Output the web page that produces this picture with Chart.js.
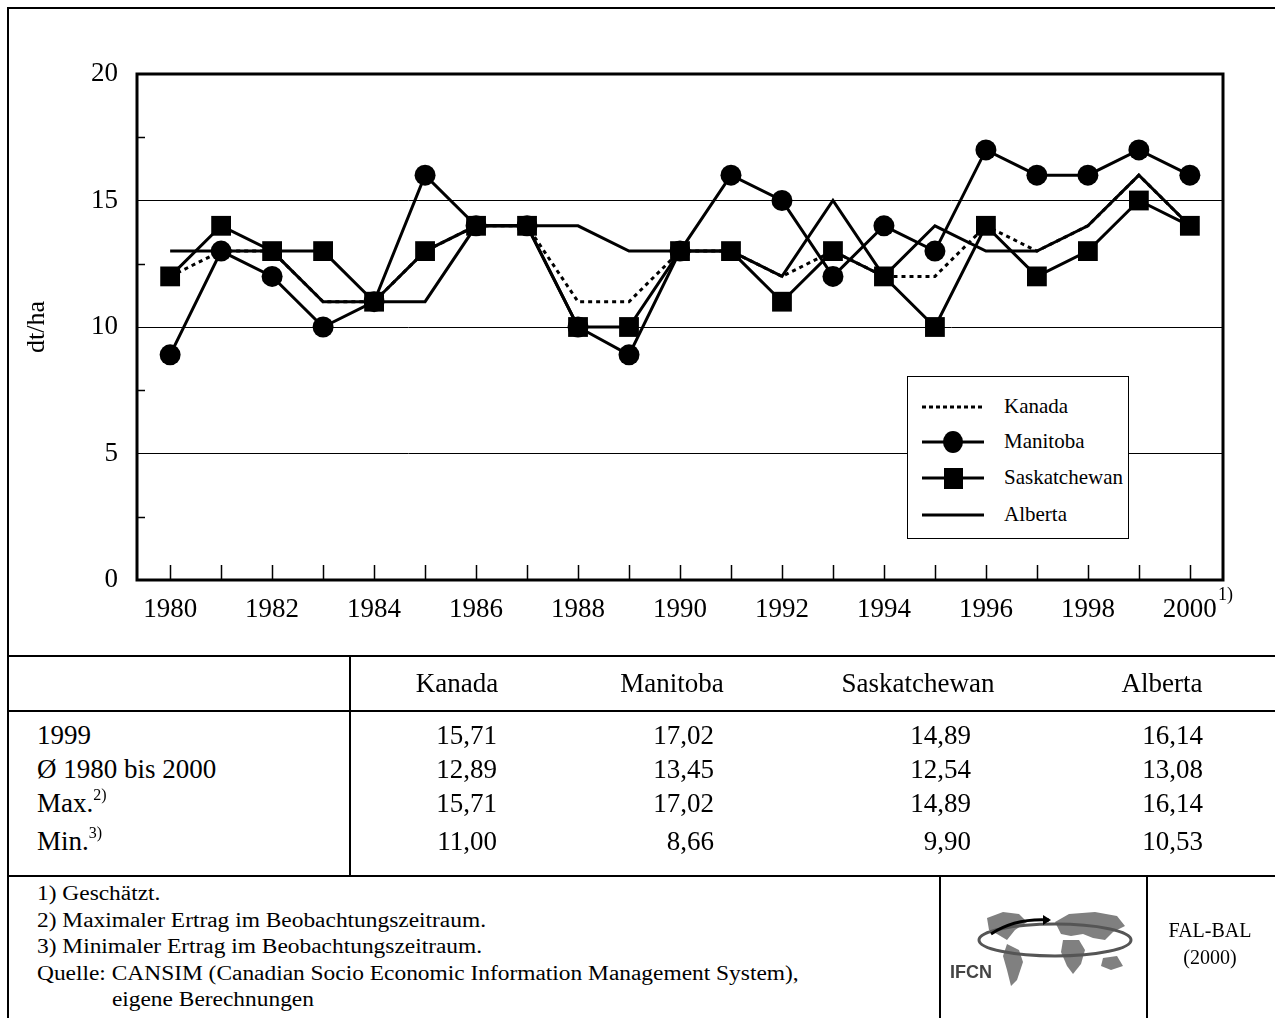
<!DOCTYPE html>
<html>
<head>
<meta charset="utf-8">
<script src="https://cdn.jsdelivr.net/npm/chart.js@4/dist/chart.umd.min.js"></script>
<style>
  body { margin: 0; background: #fff; font-family: "Liberation Serif", "Times New Roman", serif; color: #000; }
  #page { position: relative; width: 1275px; height: 1018px; overflow: hidden; }
  #chartWrap { position: absolute; left: 0; top: 0; width: 1275px; height: 656px; }
  .hl { position: absolute; height: 0; border-top: 2px solid #000; }
  .vl { position: absolute; width: 0; border-left: 2px solid #000; }
  .txt { position: absolute; white-space: nowrap; }
  .num { position: absolute; white-space: nowrap; text-align: right; }
  #legend { position: absolute; left: 907px; top: 376px; width: 220px; height: 161px; border: 1px solid #000; background: #fff; }
  #legend .row { position: absolute; left: 14px; height: 30px; }
  #legend svg { position: absolute; left: 0; top: 0; }
  #legend span { position: absolute; left: 82px; top: 2px; font-size: 21px; }
  #notes div { white-space: nowrap; }
</style>
</head>
<body>
<div id="page">
  <div id="chartWrap"><canvas id="yieldChart"></canvas></div>

  <div id="legend">
    <div class="row" style="top:15px"><svg width="70" height="30"><line x1="0" y1="15" x2="62" y2="15" stroke="#000" stroke-width="3" stroke-dasharray="4,3"/></svg><span>Kanada</span></div>
    <div class="row" style="top:50px"><svg width="70" height="30"><line x1="0" y1="15" x2="62" y2="15" stroke="#000" stroke-width="3"/><ellipse cx="31" cy="15" rx="10" ry="11" fill="#000"/></svg><span>Manitoba</span></div>
    <div class="row" style="top:86px"><svg width="70" height="30"><line x1="0" y1="15" x2="62" y2="15" stroke="#000" stroke-width="3"/><rect x="22" y="5" width="19" height="21" fill="#000"/></svg><span>Saskatchewan</span></div>
    <div class="row" style="top:123px"><svg width="70" height="30"><line x1="0" y1="15" x2="62" y2="15" stroke="#000" stroke-width="3"/></svg><span>Alberta</span></div>
  </div>

  <div class="txt" style="left:1218px; top:584px; font-size:18px;">1)</div>

  <!-- frame -->
  <div class="hl" style="left:8px; top:7px; width:1267px;"></div>
  <div class="vl" style="left:7px; top:7px; height:1011px;"></div>
  <div class="hl" style="left:8px; top:655px; width:1267px;"></div>
  <div class="hl" style="left:8px; top:710px; width:1267px;"></div>
  <div class="hl" style="left:8px; top:875px; width:1267px;"></div>
  <div class="vl" style="left:349px; top:656px; height:220px;"></div>
  <div class="vl" style="left:939px; top:876px; height:142px;"></div>
  <div class="vl" style="left:1146px; top:876px; height:142px;"></div>

  <div id="table"></div>

  <div id="notes" style="position:absolute; left:37px; top:880px; font-size:20px; line-height:26.5px; transform:scaleX(1.17); transform-origin:0 0;">
    <div>1) Geschätzt.</div>
    <div>2) Maximaler Ertrag im Beobachtungszeitraum.</div>
    <div>3) Minimaler Ertrag im Beobachtungszeitraum.</div>
    <div>Quelle: CANSIM (Canadian Socio Economic Information Management System),</div>
    <div style="padding-left:64px">eigene Berechnungen</div>
  </div>

  <svg style="position:absolute; left:945px; top:900px;" width="195" height="100">
    <g fill="#808080">
      <path d="M42 18 L58 12 L74 14 L82 22 L70 30 L62 40 L52 34 L44 30 Z"/>
      <path d="M62 44 L74 50 L78 62 L72 80 L66 86 L62 70 L58 56 Z"/>
      <path d="M110 22 L124 14 L150 12 L172 16 L180 26 L168 32 L160 40 L148 38 L138 34 L126 36 L116 34 Z"/>
      <path d="M118 40 L134 40 L140 50 L136 64 L128 74 L122 66 L116 52 Z"/>
      <path d="M158 58 L172 56 L178 66 L166 70 L156 66 Z"/>
    </g>
    <ellipse cx="110" cy="40" rx="76" ry="16" fill="none" stroke="#555" stroke-width="3"/>
    <path d="M46 34 Q70 18 104 20" fill="none" stroke="#000" stroke-width="3"/>
    <path d="M98 15 L106 20 L98 25 Z" fill="#000"/>
    <text x="5" y="78" font-family="Liberation Sans, Arial, sans-serif" font-weight="bold" font-size="18" fill="#444">IFCN</text>
  </svg>

  <div class="txt" style="left:1147px; width:126px; top:917px; font-size:20px; text-align:center; line-height:27px;">FAL-BAL<br>(2000)</div>
</div>

<script>
// Weizenertrag in dt/ha, 1980 bis 2000
const years = [1980, 1981, 1982, 1983, 1984, 1985, 1986, 1987, 1988, 1989, 1990,
               1991, 1992, 1993, 1994, 1995, 1996, 1997, 1998, 1999, 2000];
const kanada       = [12, 13, 13, 11, 11, 13, 14, 14, 11, 11, 13, 13, 12, 13, 12, 12, 14, 13, 14, 16, 14];
const manitoba     = [8.9, 13, 12, 10, 11, 16, 14, 14, 10, 8.9, 13, 16, 15, 12, 14, 13, 17, 16, 16, 17, 16];
const saskatchewan = [12, 14, 13, 13, 11, 13, 14, 14, 10, 10, 13, 13, 11, 13, 12, 10, 14, 12, 13, 15, 14];
const alberta      = [13, 13, 13, 11, 11, 11, 14, 14, 14, 13, 13, 13, 12, 15, 12, 14, 13, 13, 14, 16, 14];

const xLabelYears = [1980, 1982, 1984, 1986, 1988, 1990, 1992, 1994, 1996, 1998, 2000];
const yTickValues = [0, 5, 10, 15, 20];
const yMinorTicks = [2.5, 7.5, 12.5, 17.5];

// Tabelle
const tableCols = ['Kanada', 'Manitoba', 'Saskatchewan', 'Alberta'];
const tableRows = ['1999', 'Ø 1980 bis 2000', 'Max.<sup>2)</sup>', 'Min.<sup>3)</sup>'];
const tableKanada       = ['15,71', '12,89', '15,71', '11,00'];
const tableManitoba     = ['17,02', '13,45', '17,02', '8,66'];
const tableSaskatchewan = ['14,89', '12,54', '14,89', '9,90'];
const tableAlberta      = ['16,14', '13,08', '16,14', '10,53'];

function buildTable() {
  const t = document.getElementById('table');
  const headCenters = [457, 672, 918, 1162];
  const rightEdges = [497, 714, 971, 1203];
  const rowTops = [720, 754, 788, 826];
  const cols = [tableKanada, tableManitoba, tableSaskatchewan, tableAlberta];
  let html = '';
  tableCols.forEach((c, i) => {
    html += `<div class="txt" style="left:${headCenters[i] - 150}px; width:300px; text-align:center; top:668px; font-size:27px;">${c}</div>`;
  });
  tableRows.forEach((r, j) => {
    html += `<div class="txt" style="left:37px; top:${rowTops[j]}px; font-size:27px;">${r.replace('<sup>', '<sup style="font-size:16px; vertical-align:top; position:relative; top:-2px;">')}</div>`;
    cols.forEach((col, i) => {
      html += `<div class="num" style="left:${rightEdges[i] - 200}px; width:200px; top:${rowTops[j]}px; font-size:27px;">${col[j]}</div>`;
    });
  });
  t.innerHTML = html;
}

const toPoints = arr => arr.map((v, i) => ({ x: years[i], y: v }));

const frameAndTicks = {
  id: 'frameAndTicks',
  beforeDatasetsDraw(chart) {
    const { ctx, chartArea, scales } = chart;
    ctx.save();
    ctx.strokeStyle = '#000';
    ctx.lineWidth = 1.5;
    ctx.beginPath();
    years.forEach(yr => {
      const px = Math.round(scales.x.getPixelForValue(yr)) + 0.5;
      ctx.moveTo(px, chartArea.bottom);
      ctx.lineTo(px, chartArea.bottom - 15);
    });
    yMinorTicks.forEach(v => {
      const py = Math.round(scales.y.getPixelForValue(v)) + 0.5;
      ctx.moveTo(chartArea.left, py);
      ctx.lineTo(chartArea.left + 8, py);
    });
    ctx.stroke();
    ctx.lineWidth = 3;
    ctx.strokeRect(chartArea.left, chartArea.top, chartArea.right - chartArea.left, chartArea.bottom - chartArea.top);
    ctx.restore();
  }
};

document.addEventListener('DOMContentLoaded', () => {
  buildTable();
  const ctx = document.getElementById('yieldChart').getContext('2d');
  const serif = '"Liberation Serif", "Times New Roman", serif';
  new Chart(ctx, {
    type: 'line',
    data: {
      datasets: [
        {
          label: 'Saskatchewan',
          data: toPoints(saskatchewan),
          borderColor: '#000', backgroundColor: '#000',
          borderWidth: 3, pointStyle: 'rect', pointRadius: 14, pointBorderWidth: 0,
          tension: 0, order: 1
        },
        {
          label: 'Manitoba',
          data: toPoints(manitoba),
          borderColor: '#000', backgroundColor: '#000',
          borderWidth: 3, pointStyle: 'circle', pointRadius: 10.5, pointBorderWidth: 0,
          tension: 0, order: 2
        },
        {
          label: 'Alberta',
          data: toPoints(alberta),
          borderColor: '#000', backgroundColor: '#000',
          borderWidth: 3, pointRadius: 0,
          tension: 0, order: 3
        },
        {
          label: 'Kanada',
          data: toPoints(kanada),
          borderColor: '#000', backgroundColor: '#000',
          borderWidth: 3, borderDash: [4, 4], pointRadius: 0,
          tension: 0, order: 4
        }
      ]
    },
    options: {
      responsive: true,
      maintainAspectRatio: false,
      animation: false,
      layout: { padding: { top: 74, right: 52, left: 0, bottom: 0 } },
      plugins: {
        legend: { display: false },
        tooltip: { enabled: false }
      },
      scales: {
        x: {
          type: 'linear',
          min: 1979.35,
          max: 2000.65,
          afterBuildTicks: scale => { scale.ticks = xLabelYears.map(v => ({ value: v })); },
          afterFit: scale => { scale.height = 76; },
          grid: { display: false, drawTicks: false },
          border: { display: false },
          ticks: {
            color: '#000', padding: 14, maxRotation: 0, autoSkip: false,
            font: { family: serif, size: 27 },
            callback: v => String(v)
          }
        },
        y: {
          min: 0,
          max: 20,
          afterBuildTicks: scale => { scale.ticks = yTickValues.map(v => ({ value: v })); },
          afterFit: scale => { scale.width = 137; },
          grid: {
            drawTicks: false,
            color: c => (c.tick && c.tick.value > 0 && c.tick.value < 20) ? '#000' : 'rgba(0,0,0,0)',
            lineWidth: 1
          },
          border: { display: false },
          ticks: {
            color: '#000', padding: 19,
            font: { family: serif, size: 27 }
          },
          title: {
            display: true, text: 'dt/ha', color: '#000',
            font: { family: serif, size: 26 },
            padding: { top: 22, bottom: 0 }
          }
        }
      }
    },
    plugins: [frameAndTicks]
  });
});
</script>
</body>
</html>
